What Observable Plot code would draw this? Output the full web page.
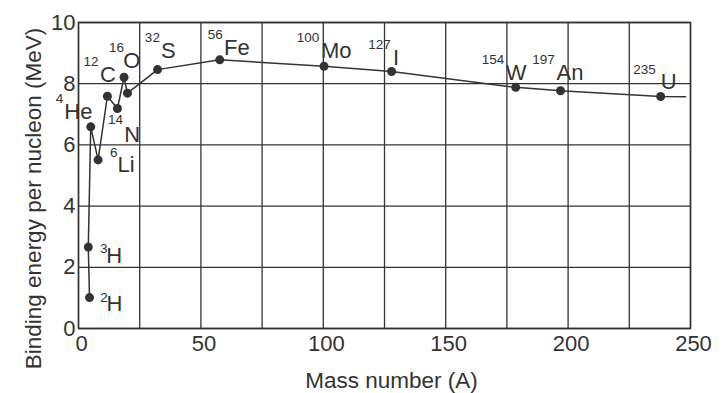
<!DOCTYPE html>
<html><head><meta charset="utf-8">
<script src="https://cdn.jsdelivr.net/npm/d3@7"></script>
<script src="https://cdn.jsdelivr.net/npm/@observablehq/plot@0.6"></script>
<style>body{margin:0;background:#fff;}</style>
</head><body><div id="chart"></div>
<script>
// Points as drawn (mass number A, binding energy per nucleon in MeV)
const massNumber = [4.5, 4.0, 5.0, 8.0, 11.8, 15.9, 18.6, 20.0, 32.3, 57.7, 100.3, 127.9, 178.6, 196.9, 237.8];
const bindingEnergy = [1.01, 2.66, 6.59, 5.51, 7.59, 7.19, 8.21, 7.69, 8.46, 8.78, 8.57, 8.40, 7.88, 7.77, 7.58];
// the curve continues a little past the last point
const curveEndA = 248;
const curveEndBE = 7.57;

// isotope labels
const isotopeMass = ["2", "3", "4", "6", "12", "14", "16", "32", "56", "100", "127", "154", "197", "235"];
const isotopeSymbol = ["H", "H", "He", "Li", "C", "N", "O", "S", "Fe", "Mo", "I", "W", "An", "U"];
const isotopePoint = [0, 1, 2, 3, 4, 5, 6, 8, 9, 10, 11, 12, 13, 14];

const xTicks = [0, 50, 100, 150, 200, 250];
const xGridTicks = [0, 25, 50, 75, 100, 125, 150, 175, 200, 225, 250];
const yTicks = [0, 2, 4, 6, 8, 10];
const xTitle = "Mass number (A)";
const yTitle = "Binding energy per nucleon (MeV)";

// layout: label offsets in pixels from each point [supDx, supDy, symDx, symDy]
const labelOffsets = [
  [10.7, 0, 17, 6],
  [11.7, 1.5, 18, 9],
  [-35, -28, -26.5, -15],
  [12, -7.7, 19.5, 5.3],
  [-24, -34.7, -7.5, -21.4],
  [-9.4, 11.3, 6.8, 26.6],
  [-15, -29.3, -0.8, -16],
  [-12.7, -31.6, 3.5, -18.3],
  [-12, -25.4, 4.2, -12],
  [-27.3, -28.3, -3.1, -15],
  [-23.3, -27, 1.3, -13.6],
  [-34, -27.7, -10, -14.3],
  [-28.3, -31, -4, -17.6],
  [-27.3, -26.7, 0.2, -14.5]
];

const points = massNumber.map((a, i) => ({A: a, BE: bindingEnergy[i]}));
const curve = [...points, {A: curveEndA, BE: curveEndBE}];

const ink = "#333";
const labelMarks = [];
isotopePoint.forEach((pi, k) => {
  const p = [points[pi]];
  const [sdx, sdy, ydx, ydy] = labelOffsets[k];
  labelMarks.push(Plot.text(p, {x: "A", y: "BE", text: () => isotopeMass[k], fontSize: 13.5,
    textAnchor: "start", lineAnchor: "middle", dx: sdx, dy: sdy, fill: ink}));
  labelMarks.push(Plot.text(p, {x: "A", y: "BE", text: () => isotopeSymbol[k], fontSize: 22,
    textAnchor: "start", lineAnchor: "middle", dx: ydx, dy: ydy, fill: ink}));
});

const chart = Plot.plot({
  width: 725,
  height: 393,
  marginLeft: 78,
  marginRight: 35,
  marginTop: 22,
  marginBottom: 65,
  style: {fontFamily: "'Liberation Sans', Arial, sans-serif", color: ink, background: "#fff"},
  x: {domain: [0, 250]},
  y: {domain: [0, 10]},
  marks: [
    Plot.gridX({ticks: xGridTicks, stroke: ink, strokeOpacity: 1, strokeWidth: 1.3}),
    Plot.gridY({ticks: yTicks, stroke: ink, strokeOpacity: 1, strokeWidth: 1.3}),
    Plot.frame({stroke: ink, strokeWidth: 1.5}),
    Plot.line(curve, {x: "A", y: "BE", stroke: ink, strokeWidth: 1.5}),
    Plot.dot(points, {x: "A", y: "BE", r: 4.5, fill: ink, stroke: "none"}),
    ...labelMarks,
    Plot.axisX({ticks: xTicks, tickSize: 0, tickPadding: 7, fontSize: 22, dx: 3, label: null}),
    Plot.axisY({ticks: yTicks, tickSize: 0, tickPadding: 3, fontSize: 22, label: null}),
    Plot.text([xTitle], {frameAnchor: "bottom", text: d => d, fontSize: 22.5, dx: 7, dy: 52, textAnchor: "middle", lineAnchor: "middle", fill: ink}),
    Plot.text([yTitle], {frameAnchor: "left", text: d => d, fontSize: 22.5, rotate: -90, dx: -45, dy: 23, textAnchor: "middle", lineAnchor: "middle", fill: ink})
  ]
});
document.getElementById("chart").appendChild(chart);
</script>
</body></html>
